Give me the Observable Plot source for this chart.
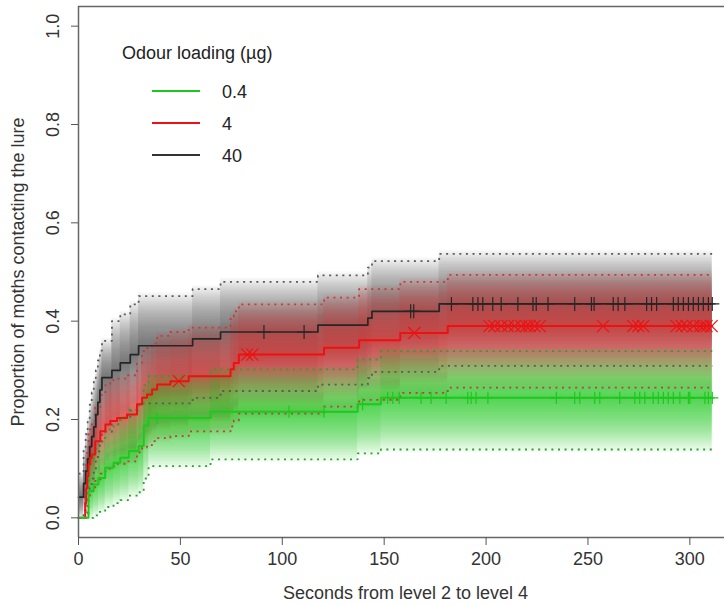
<!DOCTYPE html>
<html><head><meta charset="utf-8">
<script src="https://cdn.jsdelivr.net/npm/d3@7"></script>
<script src="https://cdn.jsdelivr.net/npm/@observablehq/plot@0.6"></script>
<style>
body{margin:0;background:#fff;}
#wrap{position:relative;width:724px;height:605px;font-family:"Liberation Sans",Arial,sans-serif;color:#222;}
.lg{position:absolute;font-size:18px;line-height:20px;white-space:nowrap;}
.ll{position:absolute;height:0;width:48px;}
</style></head><body><div id="wrap"></div>
<script>
// ---- data ----
const xTicks = [0, 50, 100, 150, 200, 250, 300];
const yTicks = [0, 0.2, 0.4, 0.6, 0.8, 1.0];
const xDomain = [0, 317];
const yDomain = [-0.04, 1.04];
const legendTitle = "Odour loading (\u00b5g)";
const legendLabels = ["0.4", "4", "40"];
const xTitle = "Seconds from level 2 to level 4";
const yTitle = "Proportion of moths contacting the lure";
const endTime = 311;

// 40 ug (black)
const t40   = [0, 2.5, 3.5, 4.5, 5.5, 6.5, 7.5, 8.5, 9.5, 10.5, 11.5, 16.4, 20.5, 25.4, 29.5, 56, 69.7, 117.5, 142, 144, 177];
const est40 = [0.042, 0.07, 0.095, 0.12, 0.145, 0.165, 0.185, 0.21, 0.235, 0.26, 0.285, 0.30, 0.315, 0.332, 0.35, 0.364, 0.378, 0.392, 0.406, 0.42, 0.435];
const lo40  = [0.0, 0.015, 0.03, 0.05, 0.065, 0.08, 0.095, 0.115, 0.135, 0.155, 0.175, 0.19, 0.203, 0.218, 0.233, 0.244, 0.258, 0.271, 0.284, 0.297, 0.309];
const hi40  = [0.09, 0.14, 0.17, 0.2, 0.23, 0.255, 0.28, 0.3, 0.32, 0.34, 0.36, 0.40, 0.414, 0.434, 0.451, 0.465, 0.48, 0.493, 0.509, 0.522, 0.537];
const cens40 = [91, 110.7, 163, 164.5, 183, 193.5, 196, 198.4, 203.3, 207.4, 215.6, 223, 224.6, 230.4, 243.5, 251.7, 253, 262.4, 264.8, 268.1, 278.8, 281.2, 283.7, 291.9, 294.3, 296.8, 299.3, 301.7, 304.2, 306.6, 309.1, 311];

// 4 ug (red)
const t4   = [0, 3.3, 3.8, 4.3, 4.9, 5.7, 6.5, 8.2, 10.7, 13.2, 15.6, 18.9, 23.8, 28.7, 31.2, 33.6, 36.1, 38.6, 45.1, 54.1, 74.6, 76.2, 78.7, 120.5, 137.7, 157.9, 181.2];
const est4 = [0, 0.03, 0.06, 0.085, 0.109, 0.122, 0.129, 0.156, 0.176, 0.19, 0.197, 0.203, 0.21, 0.231, 0.244, 0.251, 0.261, 0.271, 0.278, 0.288, 0.302, 0.315, 0.332, 0.346, 0.361, 0.376, 0.39];
const lo4  = [0, 0, 0.01, 0.025, 0.04, 0.05, 0.055, 0.075, 0.09, 0.1, 0.105, 0.11, 0.115, 0.133, 0.143, 0.148, 0.156, 0.162, 0.166, 0.176, 0.186, 0.198, 0.212, 0.226, 0.24, 0.254, 0.265];
const hi4  = [0, 0.07, 0.11, 0.14, 0.17, 0.185, 0.195, 0.225, 0.25, 0.27, 0.28, 0.283, 0.29, 0.315, 0.339, 0.345, 0.355, 0.37, 0.378, 0.387, 0.41, 0.42, 0.434, 0.448, 0.465, 0.48, 0.494];
const cens4 = [49.2, 82.8, 85.3, 164.8, 201.7, 204.1, 207.4, 210.7, 214, 217.3, 219.7, 221.3, 223.8, 226.3, 257.4, 272.2, 274.7, 277.1, 293.5, 296, 298.4, 301.7, 305, 306.6, 308.2, 310.7];

// 0.4 ug (green)
const t04   = [0, 4.9, 7.4, 9.8, 13.1, 17.2, 20.5, 24.7, 29.5, 32, 34.4, 64.8, 137, 148.4];
const est04 = [0, 0.054, 0.068, 0.081, 0.102, 0.112, 0.122, 0.136, 0.146, 0.188, 0.203, 0.216, 0.231, 0.244];
const lo04  = [0, 0, 0.005, 0.012, 0.022, 0.03, 0.036, 0.045, 0.052, 0.08, 0.105, 0.119, 0.131, 0.139];
const hi04  = [0, 0.12, 0.14, 0.155, 0.18, 0.19, 0.205, 0.22, 0.232, 0.27, 0.288, 0.302, 0.322, 0.339];
const cens04 = [38.6, 103.3, 120.5, 139.4, 151.7, 154.2, 157.4, 168.1, 173, 180.4, 191, 192.7, 195.1, 200.9, 234.5, 243.5, 246, 253.3, 255.8, 265.6, 273, 275.4, 277.9, 282, 284.5, 287, 289.4, 291.9, 295.1, 299.3, 300, 307.4, 309.1, 311];

// ---- build tables ----
function rows(t, est, lo, hi) {
  const r = t.map((d, i) => ({t: d, est: est[i], lo: lo[i], hi: hi[i]}));
  const last = r[r.length - 1];
  r.push({...last, t: endTime});
  return r;
}
function stepAt(ts, vs, x) { return vs[Math.max(0, d3.bisectRight(ts, x) - 1)]; }

const groups = [
  {rows: rows(t40, est40, lo40, hi40), cens: cens40.map(t => ({t, p: stepAt(t40, est40, t)})),
   line: "#262626", shade: "#404040", ci: "#5a5a5a", sym: "plus", r: 4.6, sw: 1.7},
  {rows: rows(t4, est4, lo4, hi4), cens: cens4.map(t => ({t, p: stepAt(t4, est4, t)})),
   line: "#ee1111", shade: "#e02a2a", ci: "#c83a3a", sym: "times", r: 5.5, sw: 2},
  {rows: rows(t04, est04, lo04, hi04), cens: cens04.map(t => ({t, p: stepAt(t04, est04, t)})),
   line: "#1ec81e", shade: "#22c822", ci: "#2f9f2f", sym: "plus", r: 4, sw: 2}
];

const N = 30, S = 1.07, OP = 0.04;
const shadeMarks = [];
for (const g of groups) {
  for (let k = 1; k <= N; k++) {
    const f = (k / N) * S;
    shadeMarks.push(Plot.areaY(g.rows, {
      x: "t",
      y1: d => d.est - f * (d.est - d.lo),
      y2: d => d.est + f * (d.hi - d.est),
      curve: "step-after", fill: g.shade, fillOpacity: OP
    }));
  }
}
const ciMarks = groups.flatMap(g => ["lo", "hi"].map(k => Plot.line(g.rows, {
  x: "t", y: k, curve: "step-after", stroke: g.ci, strokeWidth: 1.8,
  strokeDasharray: "2,4.6", strokeLinecap: "butt"
})));
const lineMarks = groups.map(g => Plot.line(g.rows, {
  x: "t", y: "est", curve: "step-after", stroke: g.line, strokeWidth: g.sw
}));
const censMarks = groups.map(g => Plot.dot(g.cens, {
  x: "t", y: "p", symbol: g.sym, r: g.r, stroke: g.line, strokeWidth: 1.2
}));

const chart = Plot.plot({
  width: 724, height: 605,
  marginLeft: 78, marginRight: 0, marginTop: 6, marginBottom: 68,
  x: {domain: xDomain},
  y: {domain: yDomain},
  style: {fontFamily: "Liberation Sans, Arial, sans-serif", fontSize: "18px", color: "#333", background: "white"},
  marks: [
    ...shadeMarks,
    ...ciMarks,
    ...lineMarks,
    ...censMarks,
    Plot.ruleY(yDomain, {stroke: "#666", strokeWidth: 1.5}),
    Plot.ruleX([xDomain[0]], {stroke: "#666", strokeWidth: 1.5}),
    Plot.axisX({ticks: xTicks, tickSize: 8, tickPadding: 7, label: null, tickFormat: d => String(d), stroke: "#555"}),
    Plot.axisY({ticks: yTicks, tickSize: 7, label: null, tickFormat: () => "", stroke: "#555"}),
    Plot.text(yTicks, {y: d => d, frameAnchor: "left", dx: -25, rotate: -90, text: d => d3.format(".1f")(d),
      textAnchor: "middle", lineAnchor: "middle", fontSize: 18, fill: "#333"}),
    Plot.text([xTitle], {frameAnchor: "bottom", dx: 4, dy: 56, text: d => d, fontSize: 18, fill: "#333",
      textAnchor: "middle", lineAnchor: "middle"}),
    Plot.text([yTitle], {frameAnchor: "left", dx: -60, rotate: -90, text: d => d, fontSize: 18, fill: "#333",
      textAnchor: "middle", lineAnchor: "middle"})
  ]
});
const wrap = document.getElementById("wrap");
wrap.appendChild(chart);

// legend (inside plot area, as in the reference)
const legColors = ["#1ec81e", "#ee1111", "#333333"];
const lt = document.createElement("div");
lt.className = "lg"; lt.style.left = "122px"; lt.style.top = "43px"; lt.textContent = legendTitle;
wrap.appendChild(lt);
const ys = [91, 123, 155];
legendLabels.forEach((lab, i) => {
  const l = document.createElement("div");
  l.className = "ll"; l.style.left = "152px"; l.style.top = (ys[i] - 1) + "px";
  l.style.borderTop = "2px solid " + legColors[i];
  wrap.appendChild(l);
  const t = document.createElement("div");
  t.className = "lg"; t.style.left = "222px"; t.style.top = (ys[i] - 9) + "px"; t.textContent = lab;
  wrap.appendChild(t);
});
</script></body></html>
